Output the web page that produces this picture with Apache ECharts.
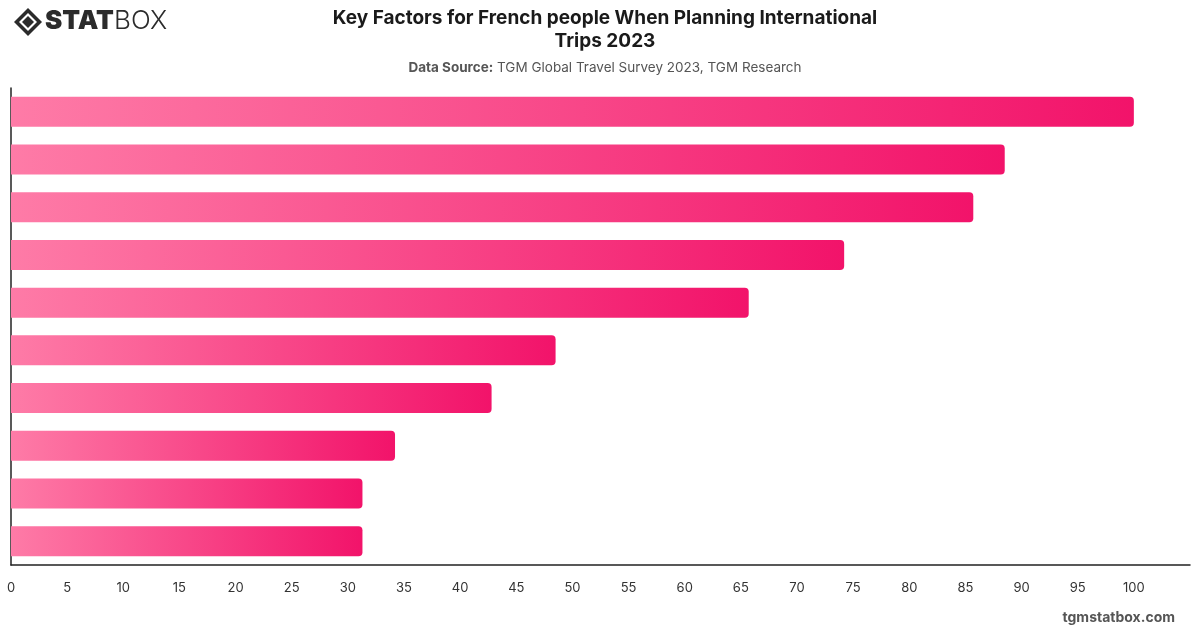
<!DOCTYPE html>
<html><head><meta charset="utf-8">
<script src="https://cdn.jsdelivr.net/npm/echarts@6/dist/echarts.min.js"></script>
<style>html,body{margin:0;padding:0;background:#fff}#c{width:1200px;height:628px}</style>
</head><body><div id="c"></div>
<script>
const categories = ["Factor 1","Factor 2","Factor 3","Factor 4","Factor 5","Factor 6","Factor 7","Factor 8","Factor 9","Factor 10"];
const values = [100, 88.5, 85.7, 74.2, 65.7, 48.5, 42.8, 34.2, 31.3, 31.3];
const xTicks = [0,5,10,15,20,25,30,35,40,45,50,55,60,65,70,75,80,85,90,95,100];

const chart = echarts.init(document.getElementById('c'), null, {renderer:'canvas'});
const font = 'Inter, "Noto Sans", sans-serif';
chart.setOption({
  animation:false,
  title:[{
    text:'Key Factors for French people When Planning International\nTrips 2023',
    left:600, top:2, textAlign:'center',
    textStyle:{fontFamily:font,fontSize:19,fontWeight:'bold',color:'#1a1a1a',lineHeight:23}
  },{
    text:'{b|Data Source:} TGM Global Travel Survey 2023, TGM Research',
    left:600, top:56, textAlign:'center',
    textStyle:{fontFamily:font,fontSize:13.5,fontWeight:'normal',color:'#555',rich:{b:{fontFamily:font,fontSize:13.5,fontWeight:'bold',color:'#555'}}}
  },{
    text:'tgmstatbox.com', right:20, top:606,
    textStyle:{fontFamily:font,fontSize:14,fontWeight:'bold',color:'#555'}
  }],
  graphic:[
    {type:'polygon',shape:{points:[[28,8],[42,22],[28,36],[14,22]]},style:{fill:'#2b2b2b'}},
    {type:'polygon',shape:{points:[[28,13],[37,22],[28,31],[19,22]]},style:{fill:'#fff'}},
    {type:'polygon',shape:{points:[[28,16],[34,22],[28,28],[22,22]]},style:{fill:'#2b2b2b'}},
    {type:'text',left:45,top:8,style:{text:'STAT',font:'900 26px '+font,fill:'#2b2b2b'}},
    {type:'text',left:114,top:8,style:{text:'BOX',font:'300 26px '+font,fill:'#2b2b2b'}}
  ],
  grid:{left:11,right:10,top:88,bottom:63,containLabel:false},
  xAxis:{
    type:'value',min:0,max:105,interval:5,
    axisLine:{show:true,lineStyle:{color:'#222',width:1.5}},
    axisTick:{show:false},
    splitLine:{show:false},
    axisLabel:{color:'#333',fontFamily:font,fontSize:13,margin:17,
      formatter:v=>xTicks.includes(v)?String(v):''}
  },
  yAxis:{
    type:'category',data:categories,inverse:true,
    axisLine:{show:true,lineStyle:{color:'#222',width:1.5}},
    axisTick:{show:false},axisLabel:{show:false}
  },
  series:[{
    type:'bar',data:values,barWidth:30,
    itemStyle:{
      borderRadius:[0,4,4,0],
      color:new echarts.graphic.LinearGradient(0,0,1,0,[{offset:0,color:'#fe7ba7'},{offset:1,color:'#f2136a'}])
    }
  }]
});
</script></body></html>
